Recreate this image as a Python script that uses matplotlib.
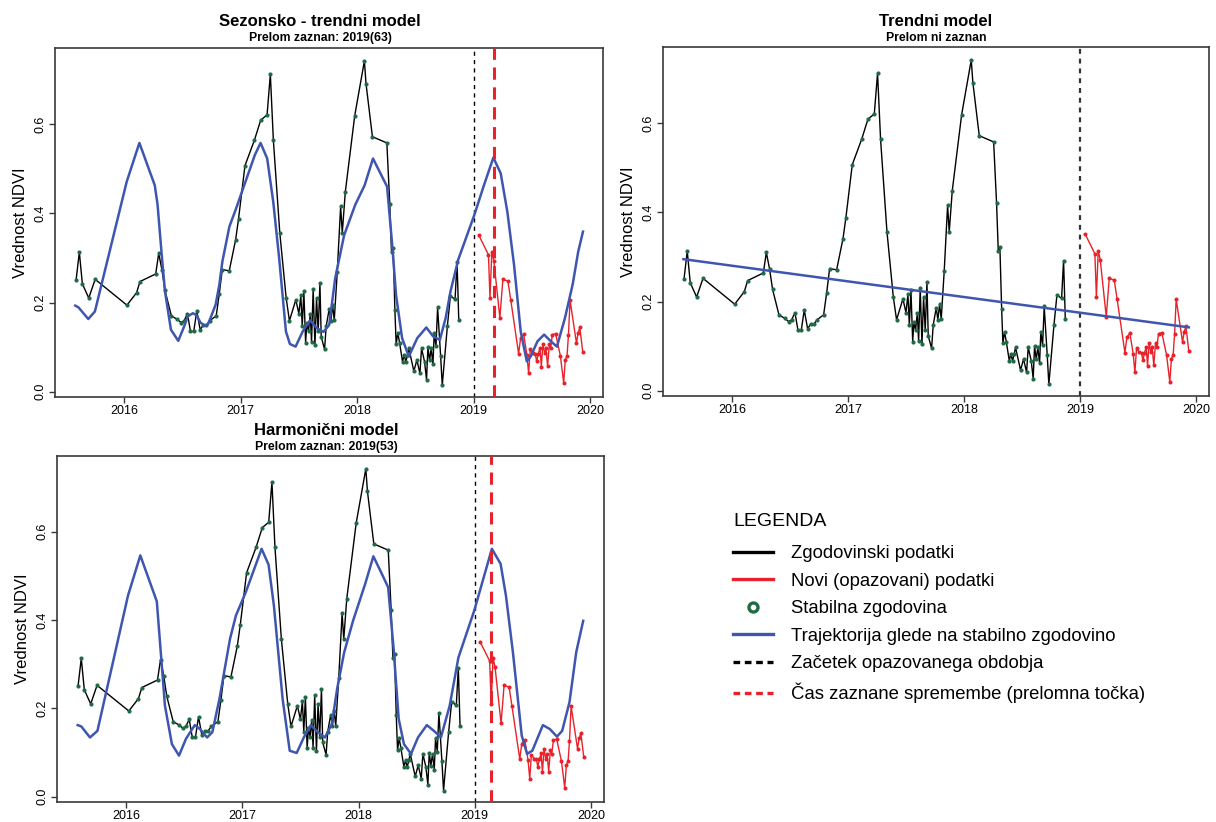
import matplotlib
matplotlib.use("Agg")
import matplotlib.pyplot as plt
from matplotlib.lines import Line2D

plt.rcParams["font.family"] = ["Liberation Sans", "DejaVu Sans"]

# zgodovinski (stabilni) podatki
hist_t = [2015.585, 2015.613, 2015.639, 2015.694, 2015.749, 2016.022, 2016.105, 2016.134, 2016.269,
          2016.295, 2016.323, 2016.349, 2016.404, 2016.455, 2016.487, 2016.513, 2016.542, 2016.568,
          2016.596, 2016.622, 2016.651, 2016.677, 2016.705, 2016.732, 2016.789, 2016.815, 2016.841,
          2016.901, 2016.956, 2016.981, 2017.036, 2017.117, 2017.171, 2017.226, 2017.254, 2017.280,
          2017.335, 2017.390, 2017.418, 2017.473, 2017.499, 2017.516, 2017.528, 2017.542, 2017.557,
          2017.568, 2017.582, 2017.597, 2017.608, 2017.622, 2017.637, 2017.651, 2017.665, 2017.680,
          2017.691, 2017.720, 2017.734, 2017.760, 2017.774, 2017.789, 2017.803, 2017.829, 2017.858,
          2017.872, 2017.898, 2017.979, 2018.062, 2018.076, 2018.131, 2018.255, 2018.280, 2018.295,
          2018.309, 2018.324, 2018.335, 2018.349, 2018.364, 2018.390, 2018.404, 2018.418, 2018.433,
          2018.444, 2018.487, 2018.513, 2018.539, 2018.553, 2018.579, 2018.596, 2018.608, 2018.622,
          2018.636, 2018.651, 2018.662, 2018.677, 2018.691, 2018.717, 2018.731, 2018.775, 2018.801,
          2018.841, 2018.858, 2018.873]
hist_v = [0.250, 0.313, 0.242, 0.210, 0.252, 0.194, 0.222, 0.247, 0.264,
          0.310, 0.273, 0.227, 0.170, 0.162, 0.155, 0.159, 0.175, 0.135,
          0.135, 0.181, 0.139, 0.149, 0.149, 0.159, 0.170, 0.219, 0.274,
          0.271, 0.341, 0.388, 0.507, 0.564, 0.609, 0.621, 0.712, 0.564,
          0.357, 0.210, 0.159, 0.206, 0.175, 0.216, 0.147, 0.225, 0.110,
          0.155, 0.136, 0.174, 0.111, 0.230, 0.104, 0.210, 0.135, 0.243,
          0.123, 0.095, 0.147, 0.186, 0.159, 0.194, 0.160, 0.269, 0.416,
          0.356, 0.448, 0.619, 0.742, 0.691, 0.572, 0.558, 0.422, 0.313,
          0.322, 0.184, 0.106, 0.132, 0.110, 0.067, 0.083, 0.067, 0.083,
          0.097, 0.046, 0.071, 0.041, 0.097, 0.067, 0.027, 0.100, 0.070,
          0.097, 0.061, 0.132, 0.102, 0.189, 0.080, 0.014, 0.147, 0.215,
          0.207, 0.292, 0.160]

# novi (opazovani) podatki
new_t = [2019.045, 2019.128, 2019.141, 2019.157, 2019.174, 2019.226, 2019.252, 2019.295, 2019.320,
         2019.387, 2019.404, 2019.430, 2019.458, 2019.473, 2019.487, 2019.510, 2019.530, 2019.542,
         2019.556, 2019.571, 2019.582, 2019.596, 2019.611, 2019.622, 2019.636, 2019.651, 2019.662,
         2019.677, 2019.705, 2019.746, 2019.774, 2019.788, 2019.803, 2019.815, 2019.829, 2019.884,
         2019.898, 2019.913, 2019.938]
new_v = [0.351, 0.307, 0.210, 0.314, 0.294, 0.166, 0.252, 0.248, 0.205,
         0.085, 0.120, 0.129, 0.083, 0.041, 0.095, 0.086, 0.085, 0.068,
         0.085, 0.098, 0.056, 0.107, 0.086, 0.097, 0.057, 0.106, 0.097,
         0.128, 0.130, 0.080, 0.020, 0.071, 0.081, 0.126, 0.205, 0.109,
         0.132, 0.144, 0.089]

# trajektorija - sezonsko-trendni model
st_t = [2015.578, 2015.606, 2015.690, 2015.747, 2016.020, 2016.129, 2016.261, 2016.285, 2016.323,
        2016.349, 2016.400, 2016.463, 2016.513, 2016.545, 2016.589, 2016.622, 2016.653, 2016.693,
        2016.718, 2016.750, 2016.784, 2016.816, 2016.842, 2016.902, 2016.960, 2017.020, 2017.121,
        2017.170, 2017.227, 2017.279, 2017.330, 2017.388, 2017.422, 2017.471, 2017.532, 2017.595,
        2017.652, 2017.710, 2017.760, 2017.811, 2017.888, 2017.983, 2018.064, 2018.136, 2018.257,
        2018.301, 2018.334, 2018.386, 2018.444, 2018.516, 2018.594, 2018.653, 2018.710, 2018.760,
        2018.802, 2018.868, 2019.006, 2019.089, 2019.170, 2019.233, 2019.290, 2019.348, 2019.405,
        2019.457, 2019.491, 2019.549, 2019.606, 2019.664, 2019.716, 2019.785, 2019.851, 2019.899,
        2019.940]
st_v = [0.193, 0.189, 0.163, 0.180, 0.471, 0.558, 0.463, 0.420, 0.300,
        0.225, 0.139, 0.114, 0.146, 0.169, 0.176, 0.171, 0.155, 0.148,
        0.151, 0.172, 0.195, 0.240, 0.292, 0.370, 0.411, 0.456, 0.531,
        0.558, 0.523, 0.426, 0.299, 0.135, 0.107, 0.101, 0.135, 0.160,
        0.143, 0.134, 0.150, 0.254, 0.351, 0.419, 0.463, 0.523, 0.460,
        0.329, 0.217, 0.120, 0.079, 0.120, 0.144, 0.124, 0.116, 0.165,
        0.225, 0.296, 0.396, 0.463, 0.525, 0.490, 0.404, 0.284, 0.135,
        0.068, 0.079, 0.113, 0.128, 0.113, 0.101, 0.165, 0.240, 0.314,
        0.359]

# trajektorija - trendni model (premica)
tr_t = [2015.580, 2019.938]
tr_v = [0.295, 0.142]

# trajektorija - harmonicni model
hm_t = [2015.582, 2015.613, 2015.688, 2015.752, 2016.015, 2016.121, 2016.263, 2016.333, 2016.393,
        2016.454, 2016.514, 2016.590, 2016.635, 2016.696, 2016.741, 2016.802, 2016.893, 2016.944,
        2017.029, 2017.165, 2017.225, 2017.271, 2017.346, 2017.407, 2017.467, 2017.528, 2017.589,
        2017.649, 2017.710, 2017.770, 2017.815, 2017.876, 2017.952, 2018.057, 2018.127, 2018.193,
        2018.254, 2018.299, 2018.345, 2018.390, 2018.451, 2018.511, 2018.587, 2018.648, 2018.708,
        2018.784, 2018.859, 2018.995, 2019.147, 2019.222, 2019.268, 2019.328, 2019.404, 2019.450,
        2019.495, 2019.586, 2019.646, 2019.707, 2019.752, 2019.815, 2019.873, 2019.933]
hm_v = [0.162, 0.159, 0.134, 0.149, 0.455, 0.546, 0.442, 0.206, 0.119,
        0.093, 0.131, 0.162, 0.153, 0.134, 0.146, 0.221, 0.357, 0.410,
        0.463, 0.561, 0.525, 0.432, 0.221, 0.104, 0.099, 0.134, 0.162,
        0.146, 0.134, 0.165, 0.244, 0.327, 0.398, 0.482, 0.544, 0.508,
        0.474, 0.342, 0.176, 0.119, 0.097, 0.134, 0.162, 0.149, 0.134,
        0.206, 0.315, 0.421, 0.561, 0.527, 0.455, 0.327, 0.138, 0.097,
        0.104, 0.162, 0.153, 0.136, 0.149, 0.214, 0.327, 0.398]

monitor_start = 2019.0
break_st = 2019.174
break_hm = 2019.141

year_ticks = [2016, 2017, 2018, 2019, 2020]
ndvi_ticks = [0.0, 0.2, 0.4, 0.6]

C_BLUE = "#3f56b0"
C_RED = "#e8222b"
C_GREEN = "#1f6b45"
C_AXIS = "#3a3a3a"


def draw_panel(ax, traj_t, traj_v, title, subtitle, brk=None, dash_grey=False, title_x=0.5):
    ax.plot(hist_t, hist_v, color="black", lw=1.0, zorder=3)
    ax.plot(hist_t, hist_v, ls="none", marker="o", ms=2.0, color=C_GREEN, zorder=4)
    ax.plot(new_t, new_v, color=C_RED, lw=1.0, marker="o", ms=1.9, zorder=3)
    ax.plot(traj_t, traj_v, color=C_BLUE, lw=1.8, zorder=5)
    if dash_grey:
        ax.axvline(monitor_start, color="#333333", lw=1.6, ls=(0, (2.2, 2.2)), zorder=2)
    else:
        ax.axvline(monitor_start, color="black", lw=1.0, ls=(0, (3, 3)), zorder=2)
    if brk is not None:
        ax.axvline(brk, color=C_RED, lw=2.2, ls=(0, (4, 2.5)), zorder=6)

    ax.set_xlim(2015.404, 2020.112)
    ax.set_ylim(-0.012, 0.771)
    ax.set_xticks(year_ticks)
    ax.set_xticklabels([str(y) for y in year_ticks])
    ax.set_yticks(ndvi_ticks)
    ax.set_yticklabels([f"{v:.1f}" for v in ndvi_ticks], rotation=90, va="center")
    ax.tick_params(axis="both", direction="out", length=4, width=1.0, colors=C_AXIS,
                   labelsize=9, labelcolor="black", pad=2)
    for sp in ax.spines.values():
        sp.set_color(C_AXIS)
        sp.set_linewidth(1.2)
    ax.set_ylabel("Vrednost NDVI", fontsize=12, labelpad=5)
    h = ax.bbox.height
    ax.text(title_x, 1 + 26 / h, title, transform=ax.transAxes, ha="center", va="center",
            fontsize=12, fontweight="bold")
    ax.text(title_x, 1 + 9.5 / h, subtitle, transform=ax.transAxes, ha="center", va="center",
            fontsize=8.8, fontweight="bold")


def main() -> None:
    fig = plt.figure(figsize=(12.16, 8.22), dpi=100)
    W, H = 1216, 822

    def box(x0, x1, y0, y1):
        return [x0 / W, 1 - y1 / H, (x1 - x0) / W, (y1 - y0) / H]

    ax1 = fig.add_axes(box(55, 603, 48, 397))
    ax2 = fig.add_axes(box(663, 1209, 47, 396))
    ax3 = fig.add_axes(box(57, 604, 456, 802))

    draw_panel(ax1, st_t, st_v, "Sezonsko - trendni model", "Prelom zaznan: 2019(63)",
               brk=break_st, title_x=0.484)
    draw_panel(ax2, tr_t, tr_v, "Trendni model", "Prelom ni zaznan", dash_grey=True)
    draw_panel(ax3, hm_t, hm_v, "Harmonični model", "Prelom zaznan: 2019(53)",
               brk=break_hm, title_x=0.493)

    handles = [
        Line2D([], [], color="black", lw=2.4),
        Line2D([], [], color=C_RED, lw=2.4),
        Line2D([], [], ls="none", marker="o", ms=6.5, mfc="white", mec=C_GREEN, mew=2.4),
        Line2D([], [], color=C_BLUE, lw=2.4),
        Line2D([], [], color="black", lw=2.4, ls=(0, (2.0, 1.4))),
        Line2D([], [], color=C_RED, lw=2.4, ls=(0, (2.0, 1.4))),
    ]
    labels = [
        "Zgodovinski podatki",
        "Novi (opazovani) podatki",
        "Stabilna zgodovina",
        "Trajektorija glede na stabilno zgodovino",
        "Začetek opazovanega obdobja",
        "Čas zaznane spremembe (prelomna točka)",
    ]
    fig.text(733 / W, 1 - 522 / H, "LEGENDA", ha="left", va="center", fontsize=14)
    fig.legend(handles, labels, loc="upper left", bbox_to_anchor=(733 / W, 1 - 545 / H),
               frameon=False, fontsize=13.3, handlelength=2.15, handletextpad=1.0,
               labelspacing=0.57, borderpad=0, borderaxespad=0)

    fig.savefig("out.png", dpi=100)
    plt.close(fig)


if __name__ == "__main__":
    main()
